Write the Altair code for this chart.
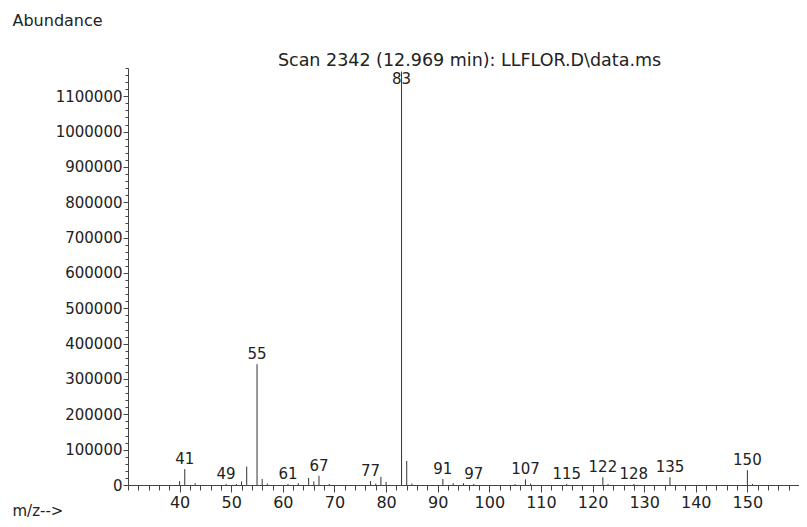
import altair as alt
import pandas as pd

mz = [40, 41, 43, 49, 51, 52, 53, 55, 56, 57, 61, 63, 65, 66, 67, 69,
      77, 78, 79, 80, 83, 84, 85, 91, 93, 95, 97, 105, 107, 108, 115,
      122, 123, 128, 135, 150, 151]
abundance = [11000, 45000, 5000, 3000, 3000, 10000, 52000, 342000, 17000, 4000,
             3000, 5000, 20000, 10000, 26000, 3000,
             11000, 4000, 23000, 9000, 1170000, 68000, 4000, 17000, 5000, 5000,
             3000, 3000, 16000, 4000, 3000,
             22000, 3000, 3000, 22000, 42000, 3000]
labeled = [41, 49, 55, 61, 67, 77, 83, 91, 97, 107, 115, 122, 128, 135, 150]
label_cap = 1120000

x_major = list(range(40, 161, 10))
x_minor = list(range(30, 161, 2))
y_major = list(range(0, 1100001, 100000))
y_minor = list(range(0, 1180001, 20000))

FONT = "DejaVu Sans"

df = pd.DataFrame({"mz": mz, "abundance": abundance})
lab = df[df["mz"].isin(labeled)].copy()
lab["label_y"] = lab["abundance"].clip(upper=label_cap)
lab["label"] = lab["mz"].astype(str)

xscale = alt.Scale(domain=[30, 160], nice=False, zero=False)
yscale = alt.Scale(domain=[0, 1180000], nice=False)

rules = alt.Chart(df).mark_rule(color="#333333", strokeWidth=1).encode(
    x=alt.X("mz:Q", scale=xscale,
            axis=alt.Axis(values=x_major, orient="bottom", tickSize=7, grid=False,
                          labelExpr="datum.value < 160 ? datum.label : ''",
                          labelFont=FONT, labelFontSize=16, labelColor="#222",
                          labelPadding=2, tickColor="#444", domainColor="#444",
                          title="m/z-->", titleFont=FONT, titleFontSize=15,
                          titleFontWeight="normal", titleColor="#222",
                          titleX=-116, titleY=33, titleAlign="left",
                          titleBaseline="bottom", titleAnchor="start")),
    y=alt.Y("abundance:Q", scale=yscale,
            axis=alt.Axis(values=y_major, orient="left", tickSize=5, grid=False,
                          format="d", labelFont=FONT, labelFontSize=15,
                          labelColor="#222", labelPadding=1,
                          tickColor="#444", domainColor="#444",
                          title="Abundance", titleFont=FONT, titleFontSize=16,
                          titleFontWeight="normal", titleColor="#222",
                          titleAngle=0, titleX=-116, titleY=-48,
                          titleAlign="left", titleBaseline="middle",
                          titleAnchor="start")),
    y2=alt.datum(0),
)

texts = alt.Chart(lab).mark_text(font=FONT, fontSize=15, color="#222",
                                 baseline="bottom", align="center", dy=-2).encode(
    x=alt.X("mz:Q", scale=xscale, axis=None),
    y=alt.Y("label_y:Q", scale=yscale, axis=None),
    text="label:N",
)

minor = alt.Chart(df).mark_point(opacity=0).encode(
    x=alt.X("mz:Q", scale=xscale,
            axis=alt.Axis(values=x_minor, orient="bottom", tickSize=5, labels=False,
                          domain=False, grid=False, title=None, tickColor="#444")),
    y=alt.Y("abundance:Q", scale=yscale,
            axis=alt.Axis(values=y_minor, orient="left", tickSize=3, labels=False,
                          domain=False, grid=False, title=None, tickColor="#444")),
)

chart = alt.layer(rules, texts, minor).resolve_scale(
    x="shared", y="shared"
).resolve_axis(
    x="independent", y="independent"
).properties(
    width=671, height=417,
    autosize=alt.AutoSizeParams(type="none"),
    padding={"left": 120, "top": 60, "right": 0, "bottom": 34},
    title=alt.TitleParams("Scan 2342 (12.969 min): LLFLOR.D\\data.ms",
                          font=FONT, fontSize=17.5, fontWeight="normal",
                          color="#222", anchor="middle", dx=6, dy=59, offset=2),
).configure_view(stroke=None)

chart.save("out.html", embed_options={"renderer": "svg", "actions": False})
